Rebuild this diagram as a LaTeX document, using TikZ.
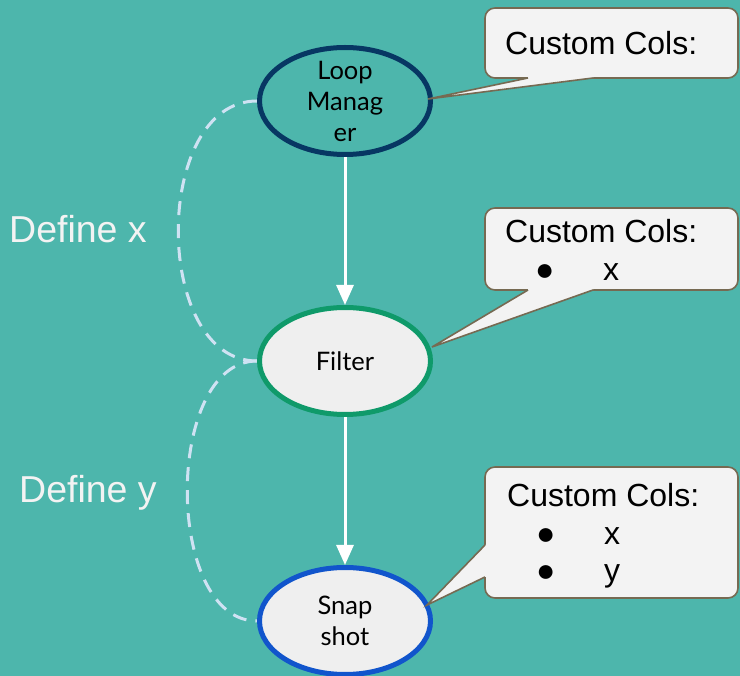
\documentclass[tikz,border=0pt]{standalone}
\usepackage{fontspec}
\setmainfont{Liberation Sans}
\newfontfamily\stagefont{Lato}
\usetikzlibrary{shapes.geometric,arrows.meta,calc}

\definecolor{bgteal}{HTML}{4DB6AC}
\definecolor{navy}{HTML}{073763}
\definecolor{stagegreen}{HTML}{0F9A6A}
\definecolor{stageblue}{HTML}{1155CC}
\definecolor{stagefill}{HTML}{EFEFEF}
\definecolor{dashblue}{HTML}{CFE2F3}
\definecolor{calloutfill}{HTML}{F3F3F3}
\definecolor{calloutline}{HTML}{766A52}
\definecolor{labelwhite}{HTML}{F3F3F3}

\pgfdeclarelayer{canvas}
\pgfdeclarelayer{behind}
\pgfsetlayers{canvas,behind,main}

\begin{document}
\begin{tikzpicture}[x=1pt,y=-1pt,
  stage/.style={ellipse, line width=5pt, minimum width=171pt, minimum height=107pt, inner sep=0pt},
  stagetext/.style={align=center, inner sep=0pt, text=black, font=\stagefont\fontsize{25.5}{31}\selectfont},
  flow/.style={white, line width=3pt, -{Triangle[width=17pt,length=20pt]}},
  loopdash/.style={dashblue, line width=3pt, dash pattern=on 14pt off 9pt},
  callout/.style={draw=calloutline, fill=calloutfill, line width=1.6pt, rounded corners=10pt, inner sep=0pt, outer sep=0pt, minimum width=253pt},
  pointer/.style={calloutline, line width=1.6pt, line join=miter},
  cols/.style={font=\fontsize{32}{38}\selectfont, text=black, inner sep=0pt, anchor=base west},
  deflabel/.style={font=\fontsize{37.5}{42}\selectfont, text=labelwhite, inner sep=0pt, anchor=base west}
]
% canvas
\begin{pgfonlayer}{canvas}
\fill[bgteal] (0,0) rectangle (740,676);
\end{pgfonlayer}
\useasboundingbox (0,0) rectangle (740,676);

% pipeline stages
\node[stage, draw=navy, fill=bgteal] (lm) at (345,101) {};
\node[stage, draw=stagegreen, fill=stagefill] (fi) at (345,361) {};
\node[stage, draw=stageblue, fill=stagefill] (sn) at (345,621) {};

\node[stagetext] (lmtext) at (lm.center) {Loop\\Manag\\er};
\node[stagetext] (fitext) at (fi.center) {Filter};
\node[stagetext] (sntext) at (sn.center) {Snap\\shot};

% scopes of the definitions, drawn behind the stages
\begin{pgfonlayer}{behind}
\draw[loopdash] (lm.west) .. controls +(-105,0) and +(-105,0) .. (fi.west);
\draw[loopdash] (fi.west) .. controls +(-93,0) and +(-93,0) .. (sn.west);
\end{pgfonlayer}

% flow between stages
\draw[flow] (lm.south) -- (fi.north);
\draw[flow] (fi.south) -- (sn.north);

% labels of the definition scopes
\node[deflabel] (defx) at (9,243) {Define x};
\node[deflabel] (defy) at (19,503) {Define y};

% callout 1
\node[callout, minimum height=70pt] (c1) at (611.5,43) {};
\coordinate (p1) at ($(lm.center)+(83,-2)$);
\fill[calloutfill] ($(c1.south west)+(43,-2)$) -- ($(c1.south west)+(43,0)$) -- (p1)
  -- ($(c1.south west)+(108,0)$) -- ($(c1.south west)+(108,-2)$) -- cycle;
\draw[pointer] ($(c1.south west)+(43,0)$) -- (p1) -- ($(c1.south west)+(108,0)$);
\node[cols] (t1) at (505,55) {Custom Cols:};

% callout 2
\node[callout, minimum height=82pt] (c2) at (611.5,249) {};
\coordinate (p2) at ($(fi.center)+(87,-14)$);
\fill[calloutfill] ($(c2.south west)+(43,-2)$) -- ($(c2.south west)+(43,0)$) -- (p2)
  -- ($(c2.south west)+(108,0)$) -- ($(c2.south west)+(108,-2)$) -- cycle;
\draw[pointer] ($(c2.south west)+(43,0)$) -- (p2) -- ($(c2.south west)+(108,0)$);
\node[cols] (t2) at (505,243) {Custom Cols:};
\node[cols] (t2b) at (535,281) {●};
\node[cols] (t2x) at (603,281) {x};

% callout 3
\node[callout, minimum height=131pt] (c3) at (611.5,532.5) {};
\coordinate (p3) at ($(sn.center)+(82,-16)$);
\fill[calloutfill] ($(c3.south west)+(2,-53)$) -- ($(c3.south west)+(0,-53)$) -- (p3)
  -- ($(c3.south west)+(0,-21)$) -- ($(c3.south west)+(2,-21)$) -- cycle;
\draw[pointer] ($(c3.south west)+(0,-53)$) -- (p3) -- ($(c3.south west)+(0,-21)$);
\node[cols] (t3) at (507,507) {Custom Cols:};
\node[cols] (t3b1) at (536,545) {●};
\node[cols] (t3x) at (604,545) {x};
\node[cols] (t3b2) at (536,582) {●};
\node[cols] (t3y) at (604,582) {y};
\end{tikzpicture}
\end{document}
